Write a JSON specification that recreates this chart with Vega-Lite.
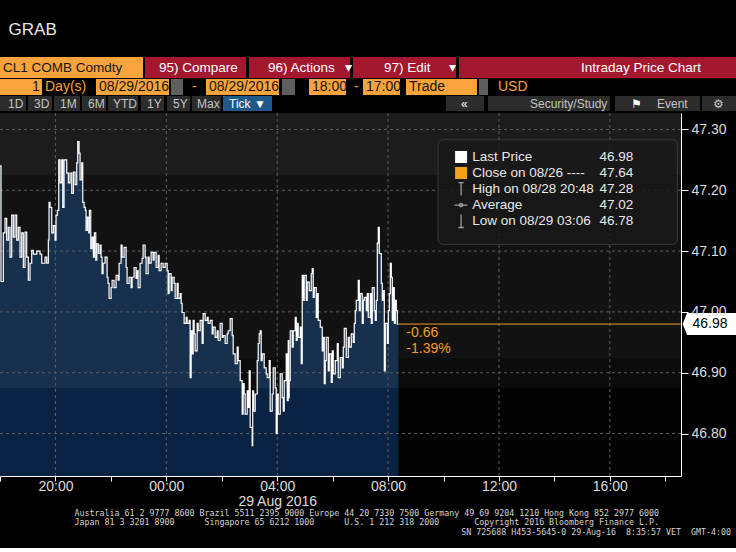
{
  "$schema": "https://vega.github.io/schema/vega-lite/v6.json",
  "background": "#000000",
  "padding": {"top": 21, "left": -3, "right": 0, "bottom": 0},
  "spacing": 1,
  "title": {"text": "GRAB", "anchor": "start", "dx": 11, "offset": 18, "fontSize": 17, "font": "Liberation Sans Narrow, Liberation Sans, Arial, sans-serif", "fontWeight": "normal", "color": "#e6e6e6"},
  "config": {"view": {"stroke": null}, "font": "Liberation Sans"},
  "datasets": {
    "row1": [
      {"i": 1, "label": "CL1 COMB Comdty", "w": 143, "fill": "orange", "ink": "dark"},
      {"i": 2, "label": "", "w": 2, "fill": "black", "ink": "dark"},
      {"i": 3, "label": "", "w": 11, "fill": "red", "ink": "light"},
      {"i": 4, "label": "95) Compare", "w": 90, "fill": "red", "ink": "light"},
      {"i": 5, "label": "", "w": 3, "fill": "black", "ink": "light"},
      {"i": 6, "label": "", "w": 16, "fill": "red", "ink": "light"},
      {"i": 7, "label": "96) Actions", "w": 77, "fill": "red", "ink": "light"},
      {"i": 8, "label": "▾", "w": 8, "fill": "red", "ink": "light"},
      {"i": 9, "label": "", "w": 3, "fill": "black", "ink": "light"},
      {"i": 10, "label": "", "w": 28, "fill": "red", "ink": "light"},
      {"i": 11, "label": "97) Edit", "w": 65, "fill": "red", "ink": "light"},
      {"i": 12, "label": "▾", "w": 10, "fill": "red", "ink": "light"},
      {"i": 13, "label": "", "w": 3, "fill": "black", "ink": "light"},
      {"i": 14, "label": "", "w": 119, "fill": "red", "ink": "light"},
      {"i": 15, "label": "Intraday Price Chart", "w": 158, "fill": "red", "ink": "light"}
    ],
    "row2": [
      {"i": 1, "label": "", "w": 29, "fill": "orange", "ink": "dark"},
      {"i": 2, "label": "1", "w": 13, "fill": "orange", "ink": "dark"},
      {"i": 3, "label": "Day(s)", "w": 54, "fill": "black", "ink": "orange"},
      {"i": 4, "label": "08/29/2016", "w": 73, "fill": "orange", "ink": "dark"},
      {"i": 5, "label": "", "w": 2, "fill": "black", "ink": "dark"},
      {"i": 6, "label": "", "w": 12, "fill": "icon", "ink": "light"},
      {"i": 7, "label": "", "w": 6, "fill": "black", "ink": "dark"},
      {"i": 8, "label": "-", "w": 17, "fill": "black", "ink": "orange"},
      {"i": 9, "label": "08/29/2016", "w": 73, "fill": "orange", "ink": "dark"},
      {"i": 10, "label": "", "w": 3, "fill": "black", "ink": "dark"},
      {"i": 11, "label": "", "w": 13, "fill": "icon", "ink": "light"},
      {"i": 12, "label": "", "w": 14, "fill": "black", "ink": "dark"},
      {"i": 13, "label": "18:00", "w": 37, "fill": "orange", "ink": "dark"},
      {"i": 14, "label": "", "w": 5, "fill": "black", "ink": "dark"},
      {"i": 15, "label": "-", "w": 12, "fill": "black", "ink": "orange"},
      {"i": 16, "label": "17:00", "w": 37, "fill": "orange", "ink": "dark"},
      {"i": 17, "label": "", "w": 6, "fill": "black", "ink": "dark"},
      {"i": 18, "label": "Trade", "w": 71, "fill": "orange", "ink": "dark"},
      {"i": 19, "label": "", "w": 2, "fill": "black", "ink": "dark"},
      {"i": 20, "label": "", "w": 9, "fill": "icon", "ink": "light"},
      {"i": 21, "label": "", "w": 7, "fill": "black", "ink": "dark"},
      {"i": 22, "label": "USD", "w": 241, "fill": "black", "ink": "orange"}
    ],
    "row3": [
      {"i": 1, "label": "", "w": 5, "fill": "gray", "ink": "dim"},
      {"i": 2, "label": "1D", "w": 21, "fill": "gray", "ink": "dim"},
      {"i": 3, "label": "", "w": 2, "fill": "black", "ink": "dim"},
      {"i": 4, "label": "", "w": 3, "fill": "gray", "ink": "dim"},
      {"i": 5, "label": "3D", "w": 21, "fill": "gray", "ink": "dim"},
      {"i": 6, "label": "", "w": 2, "fill": "black", "ink": "dim"},
      {"i": 7, "label": "", "w": 3, "fill": "gray", "ink": "dim"},
      {"i": 8, "label": "1M", "w": 23, "fill": "gray", "ink": "dim"},
      {"i": 9, "label": "", "w": 2, "fill": "black", "ink": "dim"},
      {"i": 10, "label": "", "w": 3, "fill": "gray", "ink": "dim"},
      {"i": 11, "label": "6M", "w": 21, "fill": "gray", "ink": "dim"},
      {"i": 12, "label": "", "w": 2, "fill": "black", "ink": "dim"},
      {"i": 13, "label": "", "w": 2, "fill": "gray", "ink": "dim"},
      {"i": 14, "label": "YTD", "w": 28, "fill": "gray", "ink": "dim"},
      {"i": 15, "label": "", "w": 3, "fill": "black", "ink": "dim"},
      {"i": 16, "label": "", "w": 3, "fill": "gray", "ink": "dim"},
      {"i": 17, "label": "1Y", "w": 20, "fill": "gray", "ink": "dim"},
      {"i": 18, "label": "", "w": 3, "fill": "black", "ink": "dim"},
      {"i": 19, "label": "", "w": 3, "fill": "gray", "ink": "dim"},
      {"i": 20, "label": "5Y", "w": 20, "fill": "gray", "ink": "dim"},
      {"i": 21, "label": "", "w": 2, "fill": "black", "ink": "dim"},
      {"i": 22, "label": "", "w": 2, "fill": "gray", "ink": "dim"},
      {"i": 23, "label": "Max", "w": 27, "fill": "gray", "ink": "dim"},
      {"i": 24, "label": "", "w": 2, "fill": "black", "ink": "dim"},
      {"i": 25, "label": "", "w": 3, "fill": "blue", "ink": "light"},
      {"i": 26, "label": "Tick ▼", "w": 46, "fill": "blue", "ink": "light"},
      {"i": 27, "label": "", "w": 174, "fill": "black", "ink": "dim"},
      {"i": 28, "label": "", "w": 12, "fill": "gray", "ink": "dim"},
      {"i": 29, "label": "«", "w": 26, "fill": "gray", "ink": "light"},
      {"i": 30, "label": "", "w": 4, "fill": "black", "ink": "dim"},
      {"i": 31, "label": "", "w": 39, "fill": "gray", "ink": "dim"},
      {"i": 32, "label": "Security/Study", "w": 83, "fill": "gray", "ink": "dim"},
      {"i": 33, "label": "", "w": 5, "fill": "black", "ink": "dim"},
      {"i": 34, "label": "", "w": 13, "fill": "gray", "ink": "dim"},
      {"i": 35, "label": "⚑", "w": 26, "fill": "gray", "ink": "light"},
      {"i": 36, "label": "Event", "w": 46, "fill": "gray", "ink": "dim"},
      {"i": 37, "label": "", "w": 2, "fill": "black", "ink": "dim"},
      {"i": 38, "label": "", "w": 8, "fill": "gray", "ink": "dim"},
      {"i": 39, "label": "⚙", "w": 26, "fill": "gray", "ink": "dim"}
    ],
    "bands": [
      {"shade": "upper", "lo": 47.225, "hi": 47.327},
      {"shade": "middle", "lo": 46.923, "hi": 47.225},
      {"shade": "lower", "lo": 46.875, "hi": 46.923},
      {"shade": "bottom", "lo": 46.7302, "hi": 46.875}
    ],
    "ygrid": [{"v": 46.8}, {"v": 46.9}, {"v": 47.0}, {"v": 47.1}, {"v": 47.2}, {"v": 47.3}],
    "xgrid": [
      {"t": "2016-08-28T20:00:00"}, {"t": "2016-08-29T00:00:00"}, {"t": "2016-08-29T04:00:00"},
      {"t": "2016-08-29T08:00:00"}, {"t": "2016-08-29T12:00:00"}, {"t": "2016-08-29T16:00:00"}
    ],
    "last": [
      {"t": "2016-08-29T08:22:06", "p": 46.98, "chg": "-0.66", "pct": "-1.39%"}
    ],
    "legend": [
      {"rank": 1, "item": "Last Price", "value": 46.98, "sym": "last", "level": 47.2547},
      {"rank": 2, "item": "Close on 08/26 ----", "value": 47.64, "sym": "close", "level": 47.2284},
      {"rank": 3, "item": "High on 08/28 20:48", "value": 47.28, "sym": "high", "level": 47.202},
      {"rank": 4, "item": "Average", "value": 47.02, "sym": "avg", "level": 47.1757},
      {"rank": 5, "item": "Low on 08/29 03:06", "value": 46.78, "sym": "low", "level": 47.1494}
    ],
    "ticks": [
      {"t": "2016-08-28T18:00:00", "p": 47.24},
      {"t": "2016-08-28T18:02:10", "p": 47.05},
      {"t": "2016-08-28T18:07:09", "p": 47.13},
      {"t": "2016-08-28T18:10:50", "p": 47.154},
      {"t": "2016-08-28T18:14:31", "p": 47.118},
      {"t": "2016-08-28T18:17:59", "p": 47.139},
      {"t": "2016-08-28T18:21:40", "p": 47.09},
      {"t": "2016-08-28T18:25:20", "p": 47.159},
      {"t": "2016-08-28T18:28:49", "p": 47.123},
      {"t": "2016-08-28T18:32:29", "p": 47.159},
      {"t": "2016-08-28T18:36:10", "p": 47.118},
      {"t": "2016-08-28T18:39:38", "p": 47.139},
      {"t": "2016-08-28T18:43:19", "p": 47.09},
      {"t": "2016-08-28T18:47:00", "p": 47.13},
      {"t": "2016-08-28T18:50:28", "p": 47.073},
      {"t": "2016-08-28T18:54:09", "p": 47.131},
      {"t": "2016-08-28T18:57:50", "p": 47.09},
      {"t": "2016-08-28T19:01:18", "p": 47.052},
      {"t": "2016-08-28T19:04:59", "p": 47.08},
      {"t": "2016-08-28T19:08:40", "p": 47.101},
      {"t": "2016-08-28T19:12:08", "p": 47.095},
      {"t": "2016-08-28T19:19:30", "p": 47.1},
      {"t": "2016-08-28T19:26:39", "p": 47.095},
      {"t": "2016-08-28T19:30:20", "p": 47.08},
      {"t": "2016-08-28T19:37:28", "p": 47.09},
      {"t": "2016-08-28T19:41:10", "p": 47.08},
      {"t": "2016-08-28T19:44:37", "p": 47.118},
      {"t": "2016-08-28T19:46:08", "p": 47.18},
      {"t": "2016-08-28T19:48:18", "p": 47.172},
      {"t": "2016-08-28T19:51:59", "p": 47.13},
      {"t": "2016-08-28T19:55:27", "p": 47.142},
      {"t": "2016-08-28T19:59:08", "p": 47.118},
      {"t": "2016-08-28T20:01:18", "p": 47.159},
      {"t": "2016-08-28T20:04:07", "p": 47.167},
      {"t": "2016-08-28T20:07:09", "p": 47.25},
      {"t": "2016-08-28T20:09:58", "p": 47.212},
      {"t": "2016-08-28T20:13:39", "p": 47.25},
      {"t": "2016-08-28T20:15:49", "p": 47.172},
      {"t": "2016-08-28T20:18:38", "p": 47.25},
      {"t": "2016-08-28T20:22:58", "p": 47.25},
      {"t": "2016-08-28T20:24:29", "p": 47.228},
      {"t": "2016-08-28T20:27:57", "p": 47.212},
      {"t": "2016-08-28T20:31:38", "p": 47.228},
      {"t": "2016-08-28T20:35:19", "p": 47.195},
      {"t": "2016-08-28T20:38:47", "p": 47.23},
      {"t": "2016-08-28T20:42:28", "p": 47.209},
      {"t": "2016-08-28T20:46:08", "p": 47.245},
      {"t": "2016-08-28T20:48:18", "p": 47.28},
      {"t": "2016-08-28T20:51:07", "p": 47.261},
      {"t": "2016-08-28T20:53:17", "p": 47.217},
      {"t": "2016-08-28T20:56:58", "p": 47.245},
      {"t": "2016-08-28T20:59:08", "p": 47.18},
      {"t": "2016-08-28T21:01:57", "p": 47.172},
      {"t": "2016-08-28T21:04:46", "p": 47.167},
      {"t": "2016-08-28T21:06:17", "p": 47.134},
      {"t": "2016-08-28T21:09:06", "p": 47.156},
      {"t": "2016-08-28T21:12:08", "p": 47.13},
      {"t": "2016-08-28T21:13:26", "p": 47.167},
      {"t": "2016-08-28T21:16:28", "p": 47.104},
      {"t": "2016-08-28T21:19:17", "p": 47.123},
      {"t": "2016-08-28T21:22:06", "p": 47.09},
      {"t": "2016-08-28T21:24:16", "p": 47.13},
      {"t": "2016-08-28T21:27:18", "p": 47.085},
      {"t": "2016-08-28T21:29:28", "p": 47.112},
      {"t": "2016-08-28T21:32:56", "p": 47.096},
      {"t": "2016-08-28T21:36:37", "p": 47.11},
      {"t": "2016-08-28T21:38:47", "p": 47.09},
      {"t": "2016-08-28T21:40:56", "p": 47.063},
      {"t": "2016-08-28T21:43:07", "p": 47.08},
      {"t": "2016-08-28T21:47:26", "p": 47.09},
      {"t": "2016-08-28T21:51:46", "p": 47.057},
      {"t": "2016-08-28T21:53:56", "p": 47.047},
      {"t": "2016-08-28T21:56:06", "p": 47.022},
      {"t": "2016-08-28T22:00:26", "p": 47.04},
      {"t": "2016-08-28T22:02:36", "p": 47.052},
      {"t": "2016-08-28T22:06:56", "p": 47.04},
      {"t": "2016-08-28T22:11:16", "p": 47.06},
      {"t": "2016-08-28T22:15:36", "p": 47.052},
      {"t": "2016-08-28T22:17:46", "p": 47.08},
      {"t": "2016-08-28T22:22:06", "p": 47.11},
      {"t": "2016-08-28T22:24:16", "p": 47.09},
      {"t": "2016-08-28T22:28:36", "p": 47.106},
      {"t": "2016-08-28T22:32:56", "p": 47.073},
      {"t": "2016-08-28T22:35:05", "p": 47.047},
      {"t": "2016-08-28T22:39:26", "p": 47.057},
      {"t": "2016-08-28T22:43:46", "p": 47.04},
      {"t": "2016-08-28T22:45:56", "p": 47.057},
      {"t": "2016-08-28T22:50:16", "p": 47.073},
      {"t": "2016-08-28T22:54:35", "p": 47.055},
      {"t": "2016-08-28T22:56:46", "p": 47.068},
      {"t": "2016-08-28T22:58:55", "p": 47.04},
      {"t": "2016-08-28T23:03:15", "p": 47.08},
      {"t": "2016-08-28T23:07:35", "p": 47.088},
      {"t": "2016-08-28T23:09:45", "p": 47.11},
      {"t": "2016-08-28T23:14:05", "p": 47.09},
      {"t": "2016-08-28T23:16:15", "p": 47.063},
      {"t": "2016-08-28T23:20:35", "p": 47.09},
      {"t": "2016-08-28T23:22:45", "p": 47.08},
      {"t": "2016-08-28T23:27:05", "p": 47.098},
      {"t": "2016-08-28T23:31:25", "p": 47.085},
      {"t": "2016-08-28T23:33:35", "p": 47.098},
      {"t": "2016-08-28T23:37:55", "p": 47.073},
      {"t": "2016-08-28T23:42:14", "p": 47.093},
      {"t": "2016-08-28T23:44:25", "p": 47.068},
      {"t": "2016-08-28T23:48:44", "p": 47.08},
      {"t": "2016-08-28T23:53:04", "p": 47.073},
      {"t": "2016-08-28T23:57:25", "p": 47.08},
      {"t": "2016-08-29T00:01:44", "p": 47.068},
      {"t": "2016-08-29T00:03:54", "p": 47.03},
      {"t": "2016-08-29T00:06:04", "p": 47.063},
      {"t": "2016-08-29T00:10:24", "p": 47.035},
      {"t": "2016-08-29T00:12:34", "p": 47.057},
      {"t": "2016-08-29T00:16:54", "p": 47.047},
      {"t": "2016-08-29T00:19:04", "p": 47.022},
      {"t": "2016-08-29T00:23:24", "p": 47.047},
      {"t": "2016-08-29T00:25:34", "p": 47.022},
      {"t": "2016-08-29T00:29:54", "p": 47.03},
      {"t": "2016-08-29T00:32:04", "p": 47.014},
      {"t": "2016-08-29T00:34:14", "p": 46.999},
      {"t": "2016-08-29T00:38:34", "p": 46.981},
      {"t": "2016-08-29T00:42:53", "p": 46.991},
      {"t": "2016-08-29T00:45:04", "p": 46.981},
      {"t": "2016-08-29T00:49:23", "p": 46.986},
      {"t": "2016-08-29T00:51:34", "p": 46.892},
      {"t": "2016-08-29T00:53:44", "p": 46.969},
      {"t": "2016-08-29T00:55:53", "p": 46.931},
      {"t": "2016-08-29T00:58:04", "p": 46.986},
      {"t": "2016-08-29T01:00:13", "p": 46.964},
      {"t": "2016-08-29T01:02:23", "p": 46.936},
      {"t": "2016-08-29T01:06:43", "p": 46.981},
      {"t": "2016-08-29T01:08:53", "p": 46.969},
      {"t": "2016-08-29T01:13:13", "p": 46.986},
      {"t": "2016-08-29T01:17:33", "p": 46.948},
      {"t": "2016-08-29T01:19:43", "p": 46.997},
      {"t": "2016-08-29T01:24:03", "p": 46.986},
      {"t": "2016-08-29T01:28:23", "p": 46.991},
      {"t": "2016-08-29T01:30:33", "p": 46.981},
      {"t": "2016-08-29T01:34:53", "p": 46.986},
      {"t": "2016-08-29T01:39:13", "p": 46.964},
      {"t": "2016-08-29T01:41:23", "p": 46.975},
      {"t": "2016-08-29T01:45:43", "p": 46.958},
      {"t": "2016-08-29T01:50:02", "p": 46.969},
      {"t": "2016-08-29T01:52:13", "p": 46.953},
      {"t": "2016-08-29T01:56:32", "p": 46.981},
      {"t": "2016-08-29T02:00:52", "p": 46.958},
      {"t": "2016-08-29T02:03:02", "p": 46.961},
      {"t": "2016-08-29T02:07:22", "p": 46.948},
      {"t": "2016-08-29T02:11:42", "p": 46.964},
      {"t": "2016-08-29T02:13:52", "p": 46.969},
      {"t": "2016-08-29T02:18:12", "p": 46.989},
      {"t": "2016-08-29T02:22:32", "p": 46.961},
      {"t": "2016-08-29T02:24:42", "p": 46.931},
      {"t": "2016-08-29T02:29:02", "p": 46.915},
      {"t": "2016-08-29T02:33:22", "p": 46.942},
      {"t": "2016-08-29T02:35:32", "p": 46.92},
      {"t": "2016-08-29T02:39:52", "p": 46.887},
      {"t": "2016-08-29T02:44:12", "p": 46.832},
      {"t": "2016-08-29T02:46:22", "p": 46.882},
      {"t": "2016-08-29T02:48:32", "p": 46.865},
      {"t": "2016-08-29T02:50:41", "p": 46.832},
      {"t": "2016-08-29T02:55:02", "p": 46.87},
      {"t": "2016-08-29T02:57:11", "p": 46.843},
      {"t": "2016-08-29T02:59:22", "p": 46.903},
      {"t": "2016-08-29T03:01:31", "p": 46.81},
      {"t": "2016-08-29T03:05:50", "p": 46.78},
      {"t": "2016-08-29T03:07:00", "p": 46.87},
      {"t": "2016-08-29T03:09:00", "p": 46.837},
      {"t": "2016-08-29T03:12:22", "p": 46.865},
      {"t": "2016-08-29T03:16:41", "p": 46.92},
      {"t": "2016-08-29T03:18:51", "p": 46.948},
      {"t": "2016-08-29T03:21:01", "p": 46.964},
      {"t": "2016-08-29T03:23:11", "p": 46.969},
      {"t": "2016-08-29T03:25:21", "p": 46.92},
      {"t": "2016-08-29T03:27:31", "p": 46.931},
      {"t": "2016-08-29T03:31:51", "p": 46.908},
      {"t": "2016-08-29T03:36:11", "p": 46.898},
      {"t": "2016-08-29T03:38:21", "p": 46.892},
      {"t": "2016-08-29T03:42:41", "p": 46.92},
      {"t": "2016-08-29T03:44:51", "p": 46.837},
      {"t": "2016-08-29T03:49:11", "p": 46.865},
      {"t": "2016-08-29T03:51:21", "p": 46.908},
      {"t": "2016-08-29T03:55:41", "p": 46.875},
      {"t": "2016-08-29T03:57:50", "p": 46.8},
      {"t": "2016-08-29T04:00:01", "p": 46.865},
      {"t": "2016-08-29T04:02:11", "p": 46.832},
      {"t": "2016-08-29T04:06:31", "p": 46.898},
      {"t": "2016-08-29T04:10:50", "p": 46.859},
      {"t": "2016-08-29T04:13:01", "p": 46.837},
      {"t": "2016-08-29T04:15:10", "p": 46.887},
      {"t": "2016-08-29T04:19:31", "p": 46.931},
      {"t": "2016-08-29T04:21:40", "p": 46.854},
      {"t": "2016-08-29T04:23:50", "p": 46.953},
      {"t": "2016-08-29T04:24:55", "p": 46.859},
      {"t": "2016-08-29T04:26:00", "p": 46.887},
      {"t": "2016-08-29T04:28:10", "p": 46.969},
      {"t": "2016-08-29T04:32:30", "p": 46.942},
      {"t": "2016-08-29T04:34:40", "p": 46.969},
      {"t": "2016-08-29T04:39:00", "p": 46.991},
      {"t": "2016-08-29T04:41:10", "p": 46.953},
      {"t": "2016-08-29T04:43:20", "p": 46.981},
      {"t": "2016-08-29T04:45:30", "p": 46.958},
      {"t": "2016-08-29T04:49:50", "p": 46.975},
      {"t": "2016-08-29T04:52:00", "p": 46.915},
      {"t": "2016-08-29T04:54:10", "p": 47.06},
      {"t": "2016-08-29T04:56:20", "p": 47.019},
      {"t": "2016-08-29T04:58:29", "p": 47.06},
      {"t": "2016-08-29T05:02:50", "p": 47.019},
      {"t": "2016-08-29T05:04:59", "p": 47.049},
      {"t": "2016-08-29T05:09:19", "p": 47.035},
      {"t": "2016-08-29T05:13:40", "p": 47.063},
      {"t": "2016-08-29T05:15:49", "p": 47.071},
      {"t": "2016-08-29T05:17:59", "p": 47.024},
      {"t": "2016-08-29T05:20:10", "p": 47.04},
      {"t": "2016-08-29T05:24:29", "p": 46.991},
      {"t": "2016-08-29T05:26:39", "p": 47.03},
      {"t": "2016-08-29T05:28:49", "p": 46.986},
      {"t": "2016-08-29T05:33:09", "p": 46.975},
      {"t": "2016-08-29T05:37:29", "p": 46.936},
      {"t": "2016-08-29T05:39:39", "p": 46.958},
      {"t": "2016-08-29T05:41:49", "p": 46.882},
      {"t": "2016-08-29T05:43:59", "p": 46.92},
      {"t": "2016-08-29T05:46:09", "p": 46.958},
      {"t": "2016-08-29T05:50:29", "p": 46.903},
      {"t": "2016-08-29T05:52:39", "p": 46.931},
      {"t": "2016-08-29T05:56:59", "p": 46.884},
      {"t": "2016-08-29T05:59:09", "p": 46.936},
      {"t": "2016-08-29T06:01:19", "p": 46.898},
      {"t": "2016-08-29T06:05:38", "p": 46.92},
      {"t": "2016-08-29T06:09:59", "p": 46.948},
      {"t": "2016-08-29T06:12:08", "p": 46.892},
      {"t": "2016-08-29T06:16:28", "p": 46.925},
      {"t": "2016-08-29T06:20:49", "p": 46.908},
      {"t": "2016-08-29T06:22:58", "p": 46.942},
      {"t": "2016-08-29T06:25:08", "p": 46.973},
      {"t": "2016-08-29T06:29:28", "p": 46.925},
      {"t": "2016-08-29T06:33:48", "p": 46.958},
      {"t": "2016-08-29T06:35:58", "p": 46.942},
      {"t": "2016-08-29T06:40:18", "p": 46.964},
      {"t": "2016-08-29T06:44:38", "p": 46.95},
      {"t": "2016-08-29T06:46:48", "p": 46.981},
      {"t": "2016-08-29T06:48:58", "p": 47.002},
      {"t": "2016-08-29T06:51:08", "p": 47.019},
      {"t": "2016-08-29T06:55:28", "p": 47.052},
      {"t": "2016-08-29T06:57:38", "p": 47.002},
      {"t": "2016-08-29T06:59:48", "p": 47.03},
      {"t": "2016-08-29T07:04:08", "p": 46.981},
      {"t": "2016-08-29T07:06:17", "p": 47.019},
      {"t": "2016-08-29T07:08:28", "p": 47.024},
      {"t": "2016-08-29T07:12:47", "p": 47.002},
      {"t": "2016-08-29T07:14:58", "p": 47.03},
      {"t": "2016-08-29T07:17:07", "p": 46.991},
      {"t": "2016-08-29T07:21:28", "p": 47.03},
      {"t": "2016-08-29T07:23:37", "p": 46.981},
      {"t": "2016-08-29T07:25:47", "p": 47.04},
      {"t": "2016-08-29T07:30:07", "p": 47.002},
      {"t": "2016-08-29T07:32:17", "p": 46.986},
      {"t": "2016-08-29T07:34:27", "p": 47.019},
      {"t": "2016-08-29T07:36:37", "p": 47.113},
      {"t": "2016-08-29T07:38:47", "p": 47.139},
      {"t": "2016-08-29T07:40:57", "p": 47.096},
      {"t": "2016-08-29T07:45:17", "p": 47.047},
      {"t": "2016-08-29T07:47:27", "p": 47.019},
      {"t": "2016-08-29T07:49:37", "p": 47.035},
      {"t": "2016-08-29T07:51:47", "p": 46.903},
      {"t": "2016-08-29T07:53:57", "p": 46.981},
      {"t": "2016-08-29T07:58:17", "p": 46.948},
      {"t": "2016-08-29T08:00:27", "p": 47.002},
      {"t": "2016-08-29T08:02:37", "p": 47.03},
      {"t": "2016-08-29T08:04:47", "p": 47.08},
      {"t": "2016-08-29T08:06:57", "p": 47.057},
      {"t": "2016-08-29T08:09:07", "p": 46.986},
      {"t": "2016-08-29T08:11:17", "p": 47.04},
      {"t": "2016-08-29T08:13:26", "p": 46.981},
      {"t": "2016-08-29T08:15:37", "p": 47.019},
      {"t": "2016-08-29T08:17:47", "p": 47.002},
      {"t": "2016-08-29T08:19:56", "p": 46.98},
      {"t": "2016-08-29T08:22:06", "p": 46.98}
    ]
  },
  "vconcat": [
    {
      "width": 736, "height": 21,
      "data": {"name": "row1"},
      "transform": [{"stack": "w", "groupby": [], "sort": [{"field": "i", "order": "ascending"}], "as": ["x0", "x1"]}],
      "layer": [
        {"mark": {"type": "rect"},
         "encoding": {
           "x": {"field": "x0", "type": "quantitative", "scale": {"domain": [0, 736], "nice": false, "zero": false}, "axis": null},
           "x2": {"field": "x1"},
           "color": {"field": "fill", "type": "nominal", "scale": {"domain": ["orange", "red", "black", "gray", "blue", "icon"], "range": ["#f9a33d", "#a3182e", "#000000", "#2c2c2c", "#22578a", "#5f5f5f"]}, "legend": null}}},
        {"mark": {"type": "text", "align": "left", "baseline": "middle", "dx": 3, "fontSize": 13.5},
         "encoding": {
           "x": {"field": "x0", "type": "quantitative", "axis": null},
           "text": {"field": "label"},
           "color": {"field": "ink", "type": "nominal", "scale": {"domain": ["dark", "light", "orange", "dim"], "range": ["#161616", "#ffffff", "#f9a33d", "#c4c4c4"]}, "legend": null}}}
      ],
      "resolve": {"scale": {"color": "independent"}}
    },
    {
      "width": 736, "height": 16,
      "data": {"name": "row2"},
      "transform": [{"stack": "w", "groupby": [], "sort": [{"field": "i", "order": "ascending"}], "as": ["x0", "x1"]}],
      "layer": [
        {"mark": {"type": "rect"},
         "encoding": {
           "x": {"field": "x0", "type": "quantitative", "scale": {"domain": [0, 736], "nice": false, "zero": false}, "axis": null},
           "x2": {"field": "x1"},
           "color": {"field": "fill", "type": "nominal", "scale": {"domain": ["orange", "red", "black", "gray", "blue", "icon"], "range": ["#f9a33d", "#a3182e", "#000000", "#2c2c2c", "#22578a", "#5f5f5f"]}, "legend": null}}},
        {"mark": {"type": "text", "align": "left", "baseline": "middle", "dx": 3, "fontSize": 14},
         "encoding": {
           "x": {"field": "x0", "type": "quantitative", "axis": null},
           "text": {"field": "label"},
           "color": {"field": "ink", "type": "nominal", "scale": {"domain": ["dark", "light", "orange", "dim"], "range": ["#161616", "#ffffff", "#f9a33d", "#c4c4c4"]}, "legend": null}}}
      ],
      "resolve": {"scale": {"color": "independent"}}
    },
    {
      "width": 736, "height": 15,
      "data": {"name": "row3"},
      "transform": [{"stack": "w", "groupby": [], "sort": [{"field": "i", "order": "ascending"}], "as": ["x0", "x1"]}],
      "layer": [
        {"mark": {"type": "rect"},
         "encoding": {
           "x": {"field": "x0", "type": "quantitative", "scale": {"domain": [0, 736], "nice": false, "zero": false}, "axis": null},
           "x2": {"field": "x1"},
           "color": {"field": "fill", "type": "nominal", "scale": {"domain": ["orange", "red", "black", "gray", "blue", "icon"], "range": ["#f9a33d", "#a3182e", "#000000", "#2c2c2c", "#22578a", "#5f5f5f"]}, "legend": null}}},
        {"mark": {"type": "text", "align": "left", "baseline": "middle", "dx": 3, "fontSize": 12},
         "encoding": {
           "x": {"field": "x0", "type": "quantitative", "axis": null},
           "text": {"field": "label"},
           "color": {"field": "ink", "type": "nominal", "scale": {"domain": ["dark", "light", "orange", "dim"], "range": ["#161616", "#ffffff", "#f9a33d", "#c4c4c4"]}, "legend": null}}}
      ],
      "resolve": {"scale": {"color": "independent"}}
    },
    {
      "width": 681, "height": 363,
      "title": {
        "text": ["Australia 61 2 9777 8600 Brazil 5511 2395 9000 Europe 44 20 7330 7500 Germany 49 69 9204 1210 Hong Kong 852 2977 6000", "Japan 81 3 3201 8900\u00a0\u00a0\u00a0\u00a0\u00a0\u00a0Singapore 65 6212 1000\u00a0\u00a0\u00a0\u00a0\u00a0\u00a0U.S. 1 212 318 2000\u00a0\u00a0\u00a0\u00a0\u00a0\u00a0\u00a0Copyright 2016 Bloomberg Finance L.P."],
        "orient": "bottom", "anchor": "middle", "frame": "bounds", "offset": 1,
        "font": "DejaVu Sans Mono", "fontSize": 8.3, "fontWeight": "normal", "color": "#d4d4d4", "lineHeight": 9
      },
      "layer": [
        {
          "data": {"name": "bands"},
          "mark": {"type": "rect"},
          "encoding": {
            "y": {"field": "lo", "type": "quantitative", "scale": {"domain": [46.7302, 47.327], "nice": false, "zero": false}},
            "y2": {"field": "hi"},
            "color": {"field": "shade", "type": "nominal", "scale": {"domain": ["upper", "middle", "lower", "bottom"], "range": ["#1c1c1c", "#121212", "#0b0b0b", "#030303"]}, "legend": null}
          }
        },
        {
          "data": {"name": "ticks"},
          "mark": {"type": "area", "interpolate": "step-after",
                   "color": {"gradient": "linear", "x1": 0, "y1": 0, "x2": 0, "y2": 1,
                             "stops": [{"offset": 0, "color": "#16304e"}, {"offset": 0.7366, "color": "#16304e"}, {"offset": 0.7367, "color": "#0b2343"}, {"offset": 1, "color": "#0b2343"}]}},
          "encoding": {
            "x": {"field": "t", "type": "temporal",
                  "scale": {"domain": [{"year": 2016, "month": 8, "date": 28, "hours": 18}, {"year": 2016, "month": 8, "date": 29, "hours": 18, "minutes": 34}], "nice": false},
                  "axis": {
                    "orient": "bottom", "title": null, "zindex": 1,
                    "values": [
                      {"year": 2016, "month": 8, "date": 28, "hours": 18},
                      {"year": 2016, "month": 8, "date": 28, "hours": 20},
                      {"year": 2016, "month": 8, "date": 28, "hours": 22},
                      {"year": 2016, "month": 8, "date": 29, "hours": 0},
                      {"year": 2016, "month": 8, "date": 29, "hours": 2},
                      {"year": 2016, "month": 8, "date": 29, "hours": 4},
                      {"year": 2016, "month": 8, "date": 29, "hours": 6},
                      {"year": 2016, "month": 8, "date": 29, "hours": 8},
                      {"year": 2016, "month": 8, "date": 29, "hours": 10},
                      {"year": 2016, "month": 8, "date": 29, "hours": 12},
                      {"year": 2016, "month": 8, "date": 29, "hours": 14},
                      {"year": 2016, "month": 8, "date": 29, "hours": 16},
                      {"year": 2016, "month": 8, "date": 29, "hours": 18}
                    ],
                    "labelExpr": "hours(datum.value) % 4 == 0 ? (hours(datum.value) == 4 ? [timeFormat(datum.value, '%H:%M'), timeFormat(datum.value, '%d %b %Y')] : timeFormat(datum.value, '%H:%M')) : ''",
                    "labelFontSize": 14, "labelColor": "#dcdcdc", "labelPadding": -2, "labelLineHeight": 15,
                    "labelFlush": false, "labelOverlap": false,
                    "domainColor": "#ffffff", "tickColor": "#ffffff", "tickSize": 5,
                    "grid": false
                  }},
            "y": {"field": "p", "type": "quantitative",
                  "scale": {"domain": [46.7302, 47.327], "nice": false, "zero": false},
                  "axis": {
                    "orient": "right", "zindex": 1, "title": null,
                    "values": [46.8, 46.9, 47.0, 47.1, 47.2, 47.3],
                    "format": ".2f",
                    "labelFontSize": 14, "labelColor": "#dcdcdc", "labelPadding": 3,
                    "tickSize": 7, "tickColor": "#ffffff", "domainColor": "#ffffff",
                    "grid": false
                  }},
            "y2": {"datum": 46.7302}
          }
        },
        {
          "data": {"name": "ygrid"},
          "mark": {"type": "rule", "color": "#5e5e5e", "strokeDash": [3, 3], "strokeWidth": 1},
          "encoding": {
            "y": {"field": "v", "type": "quantitative"}
          }
        },
        {
          "data": {"name": "xgrid"},
          "mark": {"type": "rule", "color": "#5e5e5e", "strokeDash": [3, 3], "strokeWidth": 1},
          "encoding": {
            "x": {"field": "t", "type": "temporal"}
          }
        },
        {
          "data": {"name": "ticks"},
          "mark": {"type": "line", "interpolate": "step-after", "color": "#ffffff", "strokeWidth": 1.2},
          "encoding": {
            "x": {"field": "t", "type": "temporal"},
            "y": {"field": "p", "type": "quantitative"}
          }
        },
        {
          "data": {"name": "last"},
          "mark": {"type": "rule", "color": "#f49b26", "strokeWidth": 1},
          "encoding": {
            "x": {"field": "t", "type": "temporal"},
            "x2": {"datum": {"year": 2016, "month": 8, "date": 29, "hours": 18, "minutes": 34}},
            "y": {"field": "p", "type": "quantitative"}
          }
        },
        {
          "data": {"name": "last"},
          "mark": {"type": "text", "align": "left", "baseline": "middle", "dx": 8, "dy": 9, "fontSize": 14, "color": "#f49b26"},
          "encoding": {
            "x": {"field": "t", "type": "temporal"},
            "y": {"field": "p", "type": "quantitative"},
            "text": {"field": "chg"}
          }
        },
        {
          "data": {"name": "last"},
          "mark": {"type": "text", "align": "left", "baseline": "middle", "dx": 8, "dy": 25, "fontSize": 14, "color": "#f49b26"},
          "encoding": {
            "x": {"field": "t", "type": "temporal"},
            "y": {"field": "p", "type": "quantitative"},
            "text": {"field": "pct"}
          }
        },
        {
          "data": {"values": [{}]},
          "mark": {"type": "rect", "fill": "#191919", "fillOpacity": 0.85, "stroke": "#3a3a3a", "strokeWidth": 1, "cornerRadius": 5},
          "encoding": {
            "x": {"datum": {"year": 2016, "month": 8, "date": 29, "hours": 9, "minutes": 48}, "type": "temporal"},
            "x2": {"datum": {"year": 2016, "month": 8, "date": 29, "hours": 18, "minutes": 26}},
            "y": {"datum": 47.283, "type": "quantitative"},
            "y2": {"datum": 47.111}
          }
        },
        {
          "data": {"name": "last"},
          "mark": {"type": "point", "shape": "M0.15,0 L0.55,-1 L5,-1 L5,1 L0.55,1 Z", "size": 484, "filled": true, "fill": "#ffffff", "strokeWidth": 0, "opacity": 1},
          "encoding": {
            "x": {"datum": {"year": 2016, "month": 8, "date": 29, "hours": 18, "minutes": 34}, "type": "temporal"},
            "y": {"field": "p", "type": "quantitative"}
          }
        },
        {
          "data": {"name": "last"},
          "mark": {"type": "text", "align": "center", "baseline": "middle", "dx": 29, "fontSize": 14, "color": "#000000"},
          "encoding": {
            "x": {"datum": {"year": 2016, "month": 8, "date": 29, "hours": 18, "minutes": 34}, "type": "temporal"},
            "y": {"field": "p", "type": "quantitative"},
            "text": {"field": "p", "format": ".2f"}
          }
        },
        {
          "data": {"name": "legend"},
          "transform": [{"filter": "datum.sym == 'last'"}],
          "mark": {"type": "square", "size": 144, "filled": true, "opacity": 1, "color": "#ffffff"},
          "encoding": {
            "x": {"datum": {"year": 2016, "month": 8, "date": 29, "hours": 10, "minutes": 38}, "type": "temporal"},
            "y": {"field": "level", "type": "quantitative"}
          }
        },
        {
          "data": {"name": "legend"},
          "transform": [{"filter": "datum.sym == 'close'"}],
          "mark": {"type": "square", "size": 144, "filled": true, "opacity": 1, "color": "#f7a01c"},
          "encoding": {
            "x": {"datum": {"year": 2016, "month": 8, "date": 29, "hours": 10, "minutes": 38}, "type": "temporal"},
            "y": {"field": "level", "type": "quantitative"}
          }
        },
        {
          "data": {"name": "legend"},
          "transform": [{"filter": "datum.sym == 'high' || datum.sym == 'avg' || datum.sym == 'low'"}],
          "mark": {"type": "point", "filled": false, "size": 169, "strokeWidth": 1.3, "color": "#9c9c9c", "opacity": 1},
          "encoding": {
            "x": {"datum": {"year": 2016, "month": 8, "date": 29, "hours": 10, "minutes": 38}, "type": "temporal"},
            "y": {"field": "level", "type": "quantitative"},
            "shape": {"field": "sym", "type": "nominal", "scale": {"domain": ["high", "avg", "low"], "range": ["M-0.4,-1 L0.4,-1 M0,-1 L0,1", "M-1,0 L1,0 M-0.25,0 A0.25,0.25 0 1,1 0.25,0 A0.25,0.25 0 1,1 -0.25,0", "M0,-1 L0,1 M-0.4,1 L0.4,1"]}, "legend": null}
          }
        },
        {
          "data": {"name": "legend"},
          "mark": {"type": "text", "align": "left", "baseline": "middle", "fontSize": 13.5, "color": "#e8e8e8"},
          "encoding": {
            "x": {"datum": {"year": 2016, "month": 8, "date": 29, "hours": 11, "minutes": 2}, "type": "temporal"},
            "y": {"field": "level", "type": "quantitative"},
            "text": {"field": "item"}
          }
        },
        {
          "data": {"name": "legend"},
          "mark": {"type": "text", "align": "right", "baseline": "middle", "fontSize": 13.5, "color": "#e8e8e8"},
          "encoding": {
            "x": {"datum": {"year": 2016, "month": 8, "date": 29, "hours": 16, "minutes": 50, "seconds": 30}, "type": "temporal"},
            "y": {"field": "level", "type": "quantitative"},
            "text": {"field": "value", "format": ".2f"}
          }
        }
      ]
    },
    {
      "width": 736, "height": 1,
      "data": {"values": [{}]},
      "mark": {"type": "text", "text": ""},
      "title": {
        "text": "SN 725688 H453-5645-0 29-Aug-16\u00a0\u00a08:35:57 VET\u00a0\u00a0GMT-4:00",
        "orient": "top", "anchor": "end", "frame": "group", "offset": 0, "dx": -5,
        "font": "DejaVu Sans Mono", "fontSize": 8.3, "fontWeight": "normal", "color": "#d4d4d4"
      }
    }
  ]
}
